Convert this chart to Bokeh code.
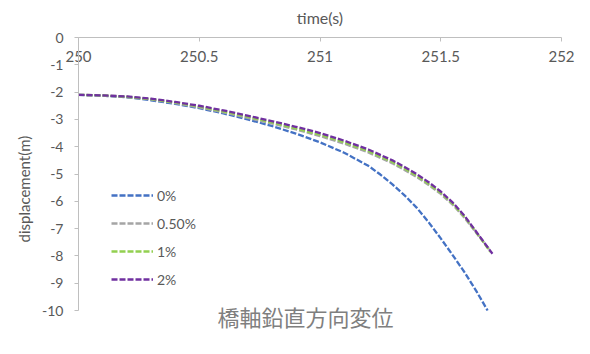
from bokeh.plotting import figure
from bokeh.models import Range1d, FixedTicker, Label, Legend, Title
from bokeh.embed import file_html
from bokeh.resources import INLINE

# ---- data ----
t_0 = [250.0, 250.1, 250.2, 250.3, 250.4, 250.5, 250.6, 250.7, 250.8, 250.9, 251.0,
       251.1, 251.2, 251.25, 251.3, 251.35, 251.4, 251.45, 251.5, 251.55, 251.6, 251.65, 251.694]
d_0 = [-2.10, -2.13, -2.19, -2.30, -2.43, -2.59, -2.78, -3.00, -3.24, -3.52, -3.84,
       -4.22, -4.70, -5.02, -5.38, -5.78, -6.23, -6.77, -7.36, -7.98, -8.62, -9.33, -10.0]

t_05 = [250.0, 250.1, 250.2, 250.3, 250.4, 250.5, 250.6, 250.7, 250.8, 250.9, 251.0,
        251.1, 251.2, 251.3, 251.35, 251.4, 251.45, 251.5, 251.55, 251.6, 251.65, 251.70]
d_05 = [-2.10, -2.13, -2.18, -2.27, -2.40, -2.56, -2.74, -2.94, -3.15, -3.37, -3.61,
        -3.89, -4.21, -4.61, -4.85, -5.11, -5.40, -5.73, -6.13, -6.62, -7.19, -7.75]

t_1 = [250.0, 250.1, 250.2, 250.3, 250.4, 250.5, 250.6, 250.7, 250.8, 250.9, 251.0,
       251.1, 251.2, 251.3, 251.35, 251.4, 251.45, 251.5, 251.55, 251.6, 251.65, 251.705]
d_1 = [-2.10, -2.12, -2.17, -2.26, -2.38, -2.53, -2.71, -2.90, -3.11, -3.33, -3.56,
       -3.84, -4.16, -4.56, -4.80, -5.06, -5.36, -5.69, -6.09, -6.58, -7.17, -7.85]

t_2 = [250.0, 250.1, 250.2, 250.3, 250.4, 250.5, 250.6, 250.7, 250.8, 250.9, 251.0,
       251.1, 251.2, 251.3, 251.35, 251.4, 251.45, 251.5, 251.55, 251.6, 251.65, 251.714]
d_2 = [-2.10, -2.12, -2.16, -2.24, -2.36, -2.50, -2.67, -2.86, -3.06, -3.27, -3.50,
       -3.78, -4.10, -4.50, -4.74, -5.00, -5.30, -5.64, -6.05, -6.55, -7.15, -7.92]

series_names = ["0%", "0.50%", "1%", "2%"]
x_ticks = [250, 250.5, 251, 251.5, 252]
x_tick_labels = ["250", "250.5", "251", "251.5", "252"]
y_ticks = [0, -1, -2, -3, -4, -5, -6, -7, -8, -9, -10]
y_tick_labels = ["0", "-1", "-2", "-3", "-4", "-5", "-6", "-7", "-8", "-9", "-10"]
x_title = "time(s)"
y_title = "displacement(m)"
chart_title = "橋軸鉛直方向変位"

# ---- figure ----
TXT = "#595959"
AX = "#BFBFBF"
FONT = "Lato"

# the frame runs to the bottom of the page so the chart title can sit inside it;
# the y axis line is bounded to the 0..-10 data span
Y_LO = -10 - 44 / 27.3

p = figure(width=590, height=354, output_backend="svg", toolbar_location=None,
           x_range=Range1d(250, 252), y_range=Range1d(Y_LO, 0),
           x_axis_location="above",
           min_border_left=78, min_border_right=29, min_border_top=37, min_border_bottom=0)
p.outline_line_color = None
p.xgrid.visible = False
p.ygrid.visible = False
p.background_fill_color = "white"
p.border_fill_color = "white"

xa = p.xaxis[0]
xa.ticker = FixedTicker(ticks=x_ticks)
xa.major_label_overrides = {k: v for k, v in zip(x_ticks, x_tick_labels)}
xa.minor_tick_line_color = None
xa.major_tick_in = 4
xa.major_tick_out = 0
xa.axis_line_color = AX
xa.major_tick_line_color = AX
xa.major_label_text_color = TXT
xa.major_label_text_font = FONT
xa.major_label_text_font_size = "15px"
xa.major_label_standoff = -24
xa.axis_label = x_title
xa.axis_label_text_font = FONT
xa.axis_label_text_font_size = "16px"
xa.axis_label_text_font_style = "normal"
xa.axis_label_text_color = TXT
xa.axis_label_standoff = 21

ya = p.yaxis[0]
ya.bounds = (-10, 0)
ya.ticker = FixedTicker(ticks=y_ticks)
ya.major_label_overrides = {k: v for k, v in zip(y_ticks, y_tick_labels)}
ya.minor_tick_line_color = None
ya.major_tick_in = 0
ya.major_tick_out = 4
ya.axis_line_color = AX
ya.major_tick_line_color = AX
ya.major_label_text_color = TXT
ya.major_label_text_font = FONT
ya.major_label_text_font_size = "14px"
ya.major_label_standoff = 11

# y-axis title as a left-side title, anchored from the frame bottom
p.add_layout(Title(text=y_title, align="left", offset=112, vertical_align="bottom",
                   standoff=14, text_font=FONT, text_font_size="15px",
                   text_font_style="normal", text_color=TXT), "left")

colors = ["#4472C4", "#A5A5A5", "#92D050", "#7030A0"]
data = [(t_0, d_0), (t_05, d_05), (t_1, d_1), (t_2, d_2)]
items = []
for (tx, dy), c, name in zip(data, colors, series_names):
    r = p.line(tx, dy, line_color=c, line_width=2.3, line_dash="6 2")
    items.append((name, [r]))

legend = Legend(items=items, location=(33, 65), orientation="vertical",
                glyph_width=42, glyph_height=20, label_height=20, spacing=8,
                label_standoff=4, padding=0, margin=0,
                border_line_color=None, background_fill_alpha=0,
                label_text_color=TXT, label_text_font=FONT, label_text_font_size="14px")
p.add_layout(legend, "center")

# chart title under the data area
p.add_layout(Label(x=139, y=38.5, x_units="screen", y_units="screen", text=chart_title,
                   text_align="left", text_baseline="alphabetic",
                   text_font="Noto Sans CJK JP", text_font_size="22px", text_color="#7F7F7F"))

open("out.html", "w").write(file_html(p, INLINE))
